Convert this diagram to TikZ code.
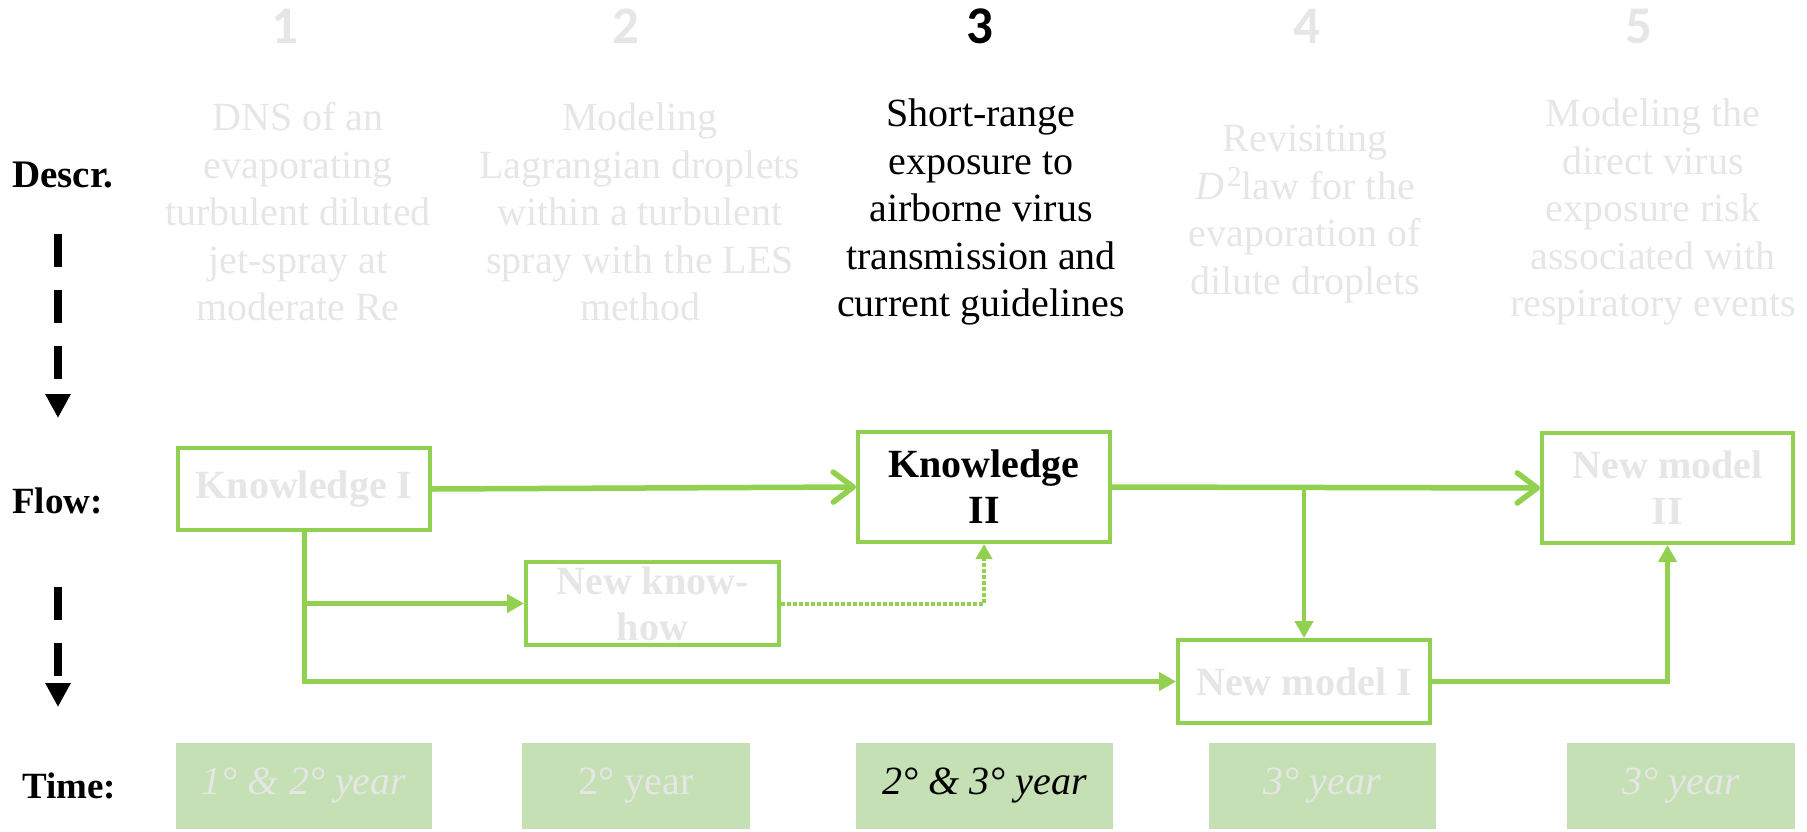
\documentclass[tikz,border=0pt]{standalone}
\usepackage{fontspec}
\setmainfont{Liberation Serif}
\newfontfamily\numfont{Carlito}
\usetikzlibrary{arrows.meta}
\definecolor{grn}{HTML}{92D050}
\definecolor{tfill}{HTML}{C5E0B4}
\definecolor{pale}{HTML}{E7E6E6}
\begin{document}
\begin{tikzpicture}[x=1pt,y=-1pt,
  box/.style={draw=grn, line width=4pt, fill=white, align=center, inner sep=0pt,
    font=\fontsize{40}{46}\selectfont\bfseries},
  tbox/.style={fill=tfill, inner sep=0pt, minimum height=86pt, font=\fontsize{40}{46}\selectfont},
  desc/.style={align=center, inner sep=0pt, font=\fontsize{40}{47.5}\selectfont},
  num/.style={inner sep=0pt, font=\numfont\bfseries\fontsize{53}{60}\selectfont},
  rowlab/.style={inner sep=0pt, anchor=west, font=\fontsize{37}{40}\selectfont\bfseries},
  flow/.style={draw=grn, line width=5.5pt},
  vflow/.style={draw=grn, line width=4.5pt},
  barb/.style={-{Straight Barb[length=20pt,width=30pt,line cap=round,line join=round]}},
  tri/.style={-{Triangle[length=17pt,width=18pt]}},
  blackdash/.style={line width=8pt, dash pattern=on 32.5pt off 23.5pt, -{Triangle[length=24pt,width=24pt]}}
]
\useasboundingbox (0,0) rectangle (1807,832);

% row labels
\node[rowlab, font=\fontsize{39}{40}\selectfont\bfseries] (lDescr) at (12,175) {Descr.};
\node[rowlab] (lFlow) at (12,501) {Flow:};
\node[rowlab] (lTime) at (22,786) {Time:};
\coordinate (dA1) at (58,234);
\coordinate (dA2) at (58,418);
\coordinate (dB1) at (58,587);
\coordinate (dB2) at (58,707);
\draw[blackdash] (dA1) -- (dA2);
\draw[blackdash] (dB1) -- (dB2);

% numbers
\node[num, text=pale] (n1) at (285,26) {1};
\node[num, text=pale] (n2) at (626,26) {2};
\node[num, text=black] (n3) at (980,26) {3};
\node[num, text=pale] (n4) at (1307,26) {4};
\node[num, text=pale] (n5) at (1639,26) {5};

% descriptions
\node[desc, text=pale] (d1) at (298,212) {DNS of an\\evaporating\\turbulent diluted\\jet-spray at\\moderate Re};
\node[desc, text=pale] (d2) at (640,212) {Modeling\\Lagrangian droplets\\within a turbulent\\spray with the LES\\method};
\node[desc, text=black] (d3) at (981,212) {Short-range\\exposure to\\airborne virus\\transmission and\\current guidelines};
\node[desc, text=pale] (d4) at (1305,214) {Revisiting\\\textit{D}\kern3pt\raisebox{13pt}{\fontsize{29}{29}\selectfont 2}law for the\\evaporation of\\dilute droplets};
\node[desc, text=pale] (d5) at (1653,212) {Modeling the\\direct virus\\exposure risk\\associated with\\respiratory events};

% flow boxes
\node[box, text=pale, minimum width=252pt, minimum height=82pt] (K1) at (304,489) {Knowledge I};
\node[box, text=pale, minimum width=253pt, minimum height=83pt] (NK) at (652.5,603.5) {New know-\\how};
\node[box, text=black, minimum width=252pt, minimum height=110pt] (K2) at (984,487) {Knowledge\\II};
\node[box, text=pale, minimum width=252pt, minimum height=83pt] (NM1) at (1304,681.5) {New model I};
\node[box, text=pale, minimum width=251pt, minimum height=110pt] (NM2) at (1667.5,488) {New model\\II};

% connectors
\draw[flow, barb] (K1.east) -- (K2.west);
\draw[flow, barb] (K2.east) -- (NM2.west);
\draw[vflow, tri] (NM1.north |- K2.east) -- (NM1.north);
\draw[vflow, line width=5pt, tri] (K1.south) |- (NM1.west);
\draw[flow, tri] (K1.south |- NK.west) -- (NK.west);
\draw[draw=grn, line width=4pt, dash pattern=on 3.5pt off 2.5pt, -{Triangle[length=15pt,width=16pt]}] (NK.east) -| (K2.south);
\draw[flow, tri] (NM1.east) -| (NM2.south);

% time boxes
\node[tbox, text=pale, minimum width=256pt] (T1) at (304,786) {\itshape 1° \& 2° year};
\node[tbox, text=pale, minimum width=228pt] (T2) at (636,786) {2° year};
\node[tbox, text=black, minimum width=257pt] (T3) at (984.5,786) {\itshape 2° \& 3° year};
\node[tbox, text=pale, minimum width=227pt] (T4) at (1322.5,786) {\itshape 3° year};
\node[tbox, text=pale, minimum width=228pt] (T5) at (1681,786) {\itshape 3° year};
\end{tikzpicture}
\end{document}
